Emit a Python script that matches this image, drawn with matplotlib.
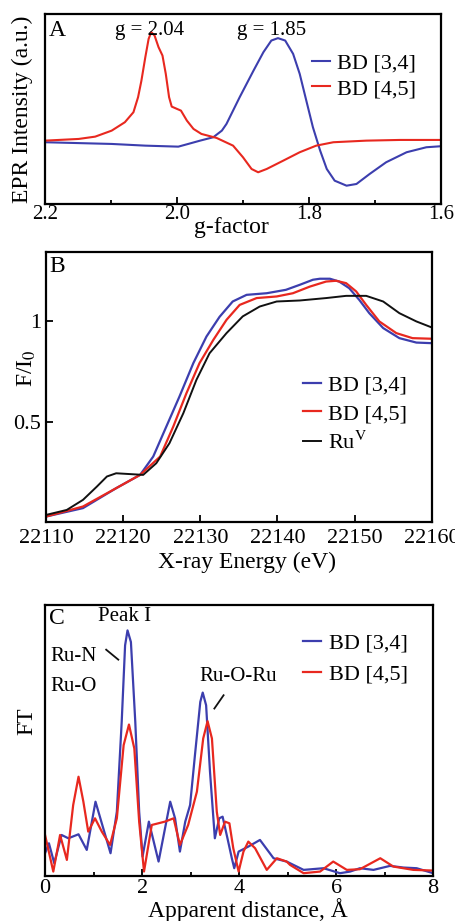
import matplotlib
matplotlib.use("Agg")
import matplotlib.pyplot as plt
from matplotlib.ticker import MultipleLocator

plt.rcParams["font.family"] = ["Liberation Serif", "DejaVu Serif"]
plt.rcParams["mathtext.fontset"] = "stix"

BLUE = "#3c3eae"
RED = "#e8281f"
BLACK = "#111111"

# Panel A: EPR spectra (g-factor, arbitrary intensity)
epr_g_blue = [2.2, 2.099, 2.048, 1.998, 1.983, 1.965, 1.945, 1.932, 1.925,
              1.905, 1.884, 1.869, 1.857, 1.847, 1.836, 1.824,
              1.814, 1.804, 1.794, 1.783, 1.773, 1.761, 1.743, 1.728, 1.708,
              1.683, 1.652, 1.622, 1.6]
epr_i_blue = [1.7, 0, -1.7, -2.7, 0, 3.3, 6.7, 13.3, 20, 46.7,
              73.3, 91.7, 103.3, 105.7, 103.3, 90, 70, 43.3, 16.7, -6.7, -25,
              -36.7, -41.7, -40, -30, -18.3, -8.3, -3.3, -2.3]
epr_g_red = [2.2, 2.149, 2.124, 2.099, 2.079, 2.066, 2.059, 2.054, 2.048,
             2.043, 2.039, 2.034, 2.028, 2.022, 2.017, 2.012, 2.008, 2.0,
             1.994, 1.985, 1.975, 1.963, 1.940, 1.915, 1.900, 1.887, 1.877,
             1.864, 1.839, 1.814, 1.789, 1.763, 1.713, 1.662, 1.6]
epr_i_red = [3.3, 5, 7.3, 13.3, 21.7, 31.7, 46.7, 63, 86.7, 105, 111.7, 108.3,
             96.7, 88.3, 70, 46.7, 37.3, 35, 33.3, 23.3, 15, 10, 6, -1.7,
             -13.3, -25, -28.3, -25, -16.7, -8.3, -1.7, 1.7, 3.3, 4, 4]

# Panel B: XANES
xanes_e_blue = [22110, 22114.8, 22119.1, 22122.2, 22123.9, 22125.6, 22127.3,
                22129.1, 22130.8, 22132.5, 22134.2, 22136, 22138.6, 22141.1,
                22142.9, 22144.6, 22145.5, 22146.8, 22148, 22149.3, 22150.6,
                22151.9, 22153.7, 22155.8, 22158, 22160]
xanes_f_blue = [0.028, 0.07, 0.169, 0.235, 0.326, 0.475, 0.624, 0.79, 0.922,
                1.02, 1.096, 1.129, 1.137, 1.154, 1.179, 1.204, 1.209, 1.209,
                1.195, 1.162, 1.104, 1.038, 0.964, 0.914, 0.892, 0.889]
xanes_e_red = [22110, 22114.8, 22119.1, 22122.2, 22124.8, 22126.5, 22128.2,
               22129.9, 22131.7, 22133.4, 22135.1, 22137.3, 22139.9, 22142,
               22144.2, 22146.3, 22147.6, 22148.9, 22150.2, 22151.5, 22153.2,
               22155.4, 22157.5, 22160]
xanes_f_red = [0.028, 0.078, 0.169, 0.235, 0.326, 0.475, 0.64, 0.79, 0.906,
               1.005, 1.079, 1.113, 1.121, 1.137, 1.17, 1.195, 1.199, 1.187,
               1.146, 1.079, 0.997, 0.939, 0.914, 0.911]
xanes_e_ru = [22110, 22112.7, 22114.8, 22116.6, 22117.9, 22119.1, 22121.3,
              22122.6, 22124.3, 22126, 22127.8, 22129.5, 22131.2, 22133.4,
              22135.5, 22137.7, 22139.9, 22142.9, 22146.3, 22148.9, 22151.5,
              22153.7, 22155.8, 22158, 22160]
xanes_f_ru = [0.036, 0.061, 0.111, 0.177, 0.227, 0.243, 0.238, 0.235, 0.293,
              0.392, 0.541, 0.707, 0.839, 0.939, 1.022, 1.071, 1.096, 1.101,
              1.113, 1.124, 1.124, 1.096, 1.038, 0.997, 0.967]

# Panel C: EXAFS Fourier transform
ft_r_blue = [0, 0.08, 0.19, 0.34, 0.48, 0.69, 0.86, 1.04, 1.18, 1.35, 1.48,
             1.58, 1.65, 1.70, 1.77, 1.86, 1.94, 2.01, 2.14, 2.34, 2.58, 2.68,
             2.78, 2.89, 2.99, 3.09, 3.2, 3.25, 3.32, 3.4, 3.5, 3.59, 3.66,
             3.76, 3.85, 3.9, 3.99, 4.19, 4.43, 4.71, 4.98, 5.05, 5.33, 5.74,
             6.08, 6.29, 6.49, 6.77, 7.11, 7.39, 7.66, 8.0]
ft_a_blue = [0.68, 0.98, 0.38, 1.23, 1.13, 1.25, 0.78, 2.23, 1.53, 0.68, 1.93,
             4.63, 6.93, 7.38, 7.03, 4.63, 1.93, 0.58, 1.63, 0.43, 2.23, 1.73,
             0.73, 1.63, 2.13, 3.63, 5.23, 5.51, 5.13, 3.13, 1.13, 1.73, 1.78,
             1.13, 0.53, 0.23, 0.73, 0.88, 1.08, 0.53, 0.43, 0.38, 0.18, 0.23,
             0.08, 0.13, 0.23, 0.18, 0.3, 0.25, 0.23, 0.08]
ft_r_red = [0, 0.17, 0.31, 0.45, 0.58, 0.69, 0.79, 0.89, 1.03, 1.17, 1.34,
            1.48, 1.62, 1.73, 1.84, 1.94, 2.04, 2.2, 2.47, 2.65, 2.78, 2.95,
            3.13, 3.26, 3.35, 3.44, 3.54, 3.61, 3.71, 3.8, 3.88, 3.99, 4.09,
            4.19, 4.33, 4.57, 4.78, 4.98, 5.05, 5.33, 5.67, 5.94, 6.22, 6.49,
            6.91, 7.18, 7.59, 8.0]
ft_a_red = [1.23, 0.13, 1.23, 0.48, 2.13, 2.98, 2.23, 1.33, 1.73, 1.33, 0.93,
            1.73, 3.93, 4.55, 3.83, 1.63, 0.13, 1.53, 1.63, 1.73, 0.93, 1.53,
            2.53, 4.13, 4.65, 4.13, 1.93, 1.23, 1.63, 1.58, 0.83, 0.13, 0.73,
            1.03, 0.83, 0.18, 0.53, 0.43, 0.33, 0.08, 0.13, 0.43, 0.18, 0.2,
            0.53, 0.28, 0.18, 0.16]


def style_axes(ax):
    for s in ax.spines.values():
        s.set_linewidth(1.6)
    ax.tick_params(which="both", direction="in", top=False, right=False,
                   labelsize=15, width=1.3)
    ax.tick_params(which="major", length=5)
    ax.tick_params(which="minor", length=3)


def legend(ax, x, y, spacing):
    leg = ax.legend(loc="upper left", bbox_to_anchor=(x, y), frameon=False,
                    fontsize=16, handlelength=0.8, handletextpad=0.35,
                    borderpad=0, borderaxespad=0, labelspacing=spacing)
    return leg


fig = plt.figure(figsize=(4.55, 9.21), dpi=100)

# ---- A ----
ax = fig.add_axes([0.099, 0.7785, 0.870, 0.2065])
ax.plot(epr_g_blue, epr_i_blue, color=BLUE, lw=1.5, label="BD [3,4]")
ax.plot(epr_g_red, epr_i_red, color=RED, lw=1.5, label="BD [4,5]")
ax.set_xlim(2.2, 1.6)
ax.set_ylim(-60, 130)
ax.set_xticks([2.2, 2.0, 1.8, 1.6])
ax.set_xticklabels(["2.2", "2.0", "1.8", "1.6"])
ax.xaxis.set_minor_locator(MultipleLocator(0.1))
ax.set_yticks([])
style_axes(ax)
ax.tick_params(axis="x", pad=1)
ax.set_xlabel("g-factor", fontsize=17, va="top")
ax.xaxis.set_label_coords(0.47, -0.07)
ax.set_ylabel("EPR Intensity (a.u.)", fontsize=17)
ax.yaxis.set_label_coords(-0.03, 0.5)
ax.text(0.01, 0.97, "A", transform=ax.transAxes, fontsize=17, va="top")
ax.text(2.041, 113, "g = 2.04", fontsize=15, ha="center", va="center")
ax.text(1.856, 113, "g = 1.85", fontsize=15, ha="center", va="center")
legend(ax, 0.674, 0.795, 0.24)

# ---- B ----
ax = fig.add_axes([0.101, 0.433, 0.848, 0.293])
ax.plot(xanes_e_blue, xanes_f_blue, color=BLUE, lw=1.6, label="BD [3,4]")
ax.plot(xanes_e_red, xanes_f_red, color=RED, lw=1.6, label="BD [4,5]")
ax.plot(xanes_e_ru, xanes_f_ru, color=BLACK, lw=1.4, label=r"Ru$^{\rm V}$")
ax.set_xlim(22110, 22160)
ax.set_ylim(0, 1.34)
ax.set_xticks([22110, 22120, 22130, 22140, 22150, 22160])
ax.set_yticks([0.5, 1])
ax.set_yticklabels(["0.5", "1"])
style_axes(ax)
ax.tick_params(labelsize=16)
ax.tick_params(axis="x", pad=5)
ax.set_xlabel("X-ray Energy (eV)", fontsize=17, va="top")
ax.xaxis.set_label_coords(0.52, -0.11)
ax.set_ylabel(r"F/I$_0$", fontsize=17)
ax.yaxis.set_label_coords(-0.02, 0.57)
ax.text(0.01, 0.985, "B", transform=ax.transAxes, fontsize=17, va="top")
legend(ax, 0.666, 0.545, 0.35)

# ---- C ----
ax = fig.add_axes([0.099, 0.049, 0.853, 0.294])
ax.plot(ft_r_blue, ft_a_blue, color=BLUE, lw=1.6, label="BD [3,4]")
ax.plot(ft_r_red, ft_a_red, color=RED, lw=1.6, label="BD [4,5]")
ax.set_xlim(0, 8)
ax.set_ylim(0, 8.14)
ax.set_xticks([0, 2, 4, 6, 8])
ax.xaxis.set_minor_locator(MultipleLocator(1))
ax.set_yticks([])
style_axes(ax)
ax.tick_params(labelsize=16, pad=2)
ax.set_xlabel("Apparent distance, Å", fontsize=17, va="top")
ax.xaxis.set_label_coords(0.523, -0.083)
ax.set_ylabel("FT", fontsize=17)
ax.yaxis.set_label_coords(-0.02, 0.57)
ax.text(0.01, 0.99, "C", transform=ax.transAxes, fontsize=17, va="top")
ax.text(1.63, 7.8, "Peak I", fontsize=15, ha="center", va="center")
ax.text(0.1, 6.6, "Ru-N", fontsize=15, ha="left", va="center")
ax.text(0.1, 5.7, "Ru-O", fontsize=15, ha="left", va="center")
ax.plot([1.26, 1.51], [6.8, 6.5], color=BLACK, lw=1.3)
ax.text(3.98, 5.98, "Ru-O-Ru", fontsize=15, ha="center", va="center")
ax.plot([3.49, 3.68], [5.03, 5.43], color=BLACK, lw=1.3)
legend(ax, 0.665, 0.897, 0.47)

fig.savefig("out.png", dpi=100)
